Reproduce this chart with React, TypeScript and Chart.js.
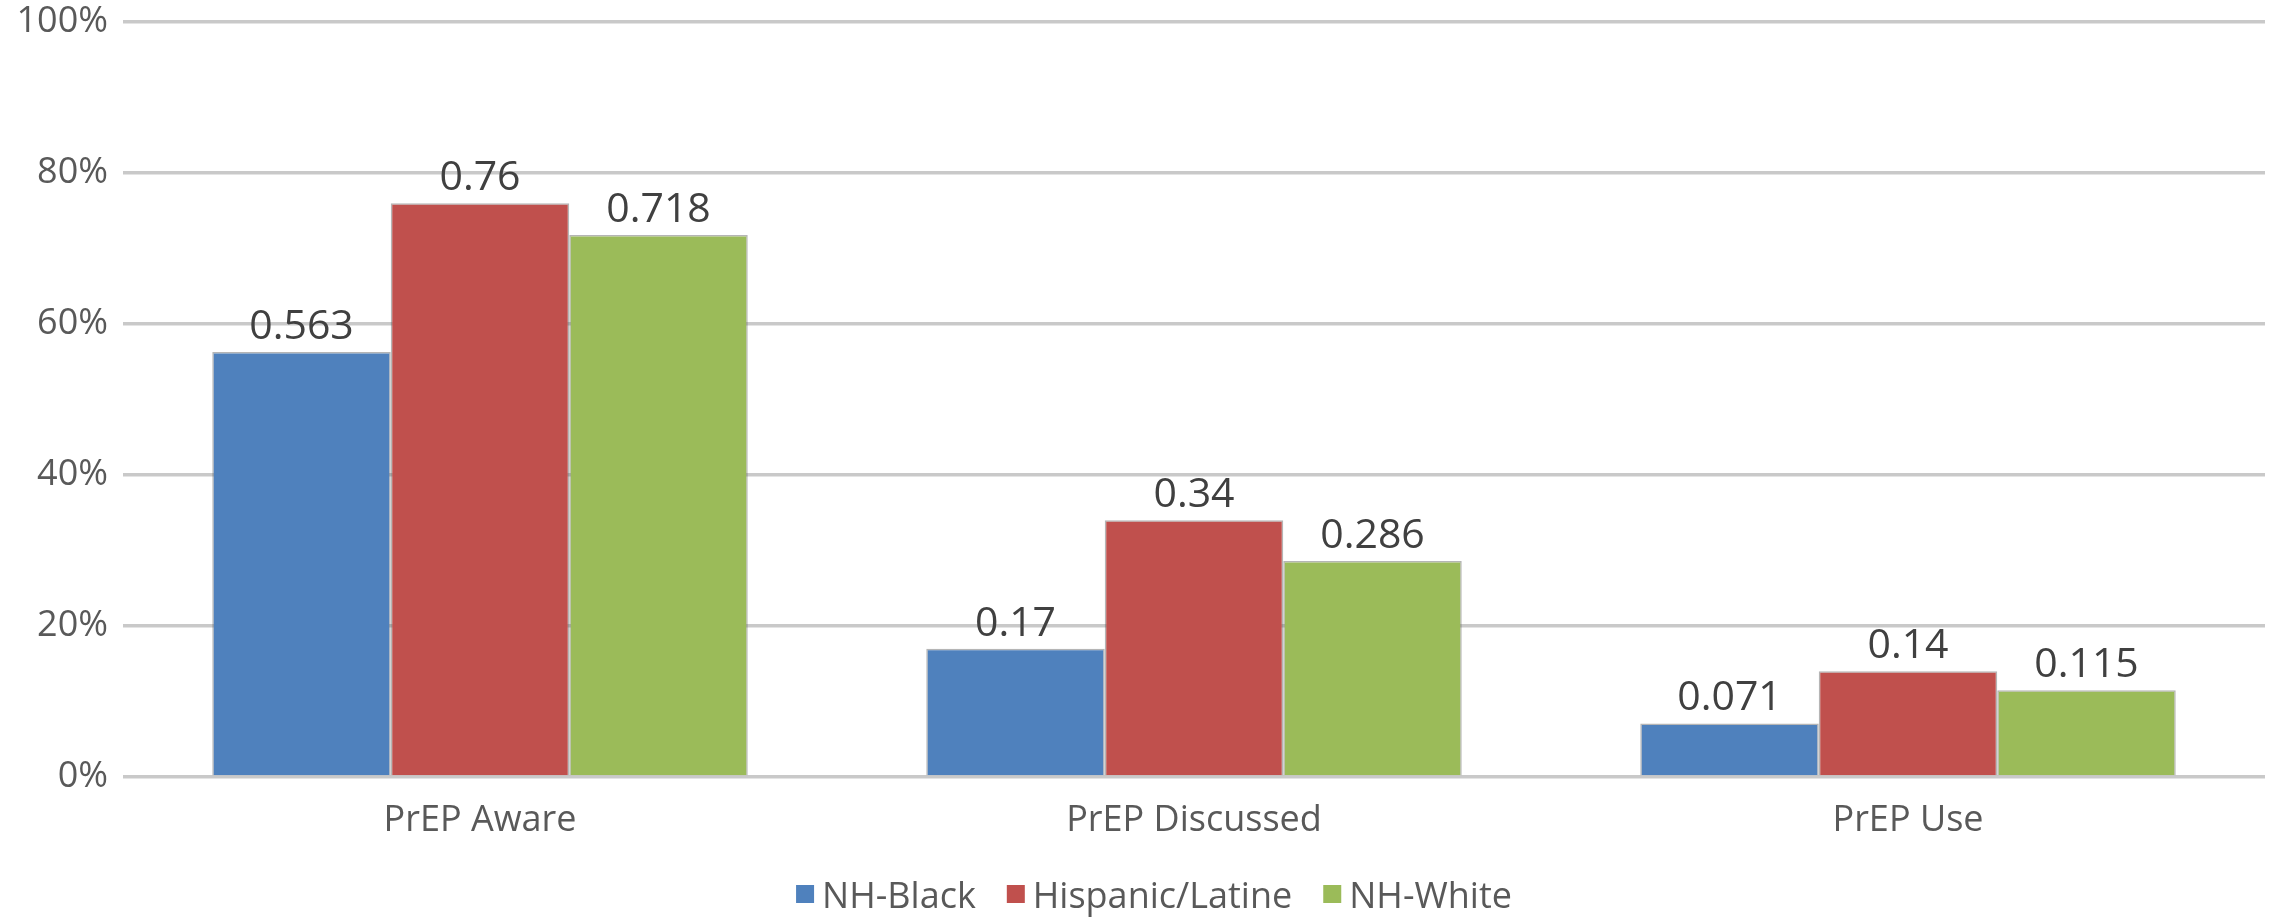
import React, { useEffect, useRef } from "react";
import { Chart, registerables } from "chart.js";

Chart.register(...registerables);

const categories = ["PrEP Aware", "PrEP Discussed", "PrEP Use"];
const seriesNames = ["NH-Black", "Hispanic/Latine", "NH-White"];
const nhBlack = [0.563, 0.17, 0.071];
const hispanicLatine = [0.76, 0.34, 0.14];
const nhWhite = [0.718, 0.286, 0.115];
const seriesColors = ["#4F81BD", "#C0504D", "#9BBB59"];
const yTickValues = [0, 0.2, 0.4, 0.6, 0.8, 1];

const FONT = '"Open Sans", "DejaVu Sans", sans-serif';

const valueLabels = {
  id: "valueLabels",
  afterDatasetsDraw(chart: any) {
    const ctx = chart.ctx;
    ctx.save();
    ctx.font = `41px ${FONT}`;
    ctx.fillStyle = "#404040";
    ctx.textAlign = "center";
    ctx.textBaseline = "alphabetic";
    chart.data.datasets.forEach((ds: any, i: number) => {
      const meta = chart.getDatasetMeta(i);
      meta.data.forEach((bar: any, j: number) => {
        ctx.fillText(String(ds.data[j]), bar.x, bar.y - 13);
      });
    });
    ctx.restore();
  },
};

const customLegend = {
  id: "customLegend",
  afterDraw(chart: any) {
    const ctx = chart.ctx;
    ctx.save();
    ctx.font = `36px ${FONT}`;
    const box = 18;
    const gap = 8;
    const itemGap = 31;
    const items = chart.data.datasets.map((ds: any) => ({
      label: ds.label,
      color: ds.backgroundColor,
      w: ctx.measureText(ds.label).width,
    }));
    const total =
      items.reduce((s: number, it: any) => s + box + gap + it.w, 0) +
      itemGap * (items.length - 1);
    let x = 1154 - total / 2;
    const yc = 898;
    ctx.textBaseline = "middle";
    ctx.textAlign = "left";
    items.forEach((it: any) => {
      ctx.fillStyle = it.color;
      ctx.fillRect(x, yc - box / 2 - 4, box, box);
      ctx.fillStyle = "#595959";
      ctx.fillText(it.label, x + box + gap, yc);
      x += box + gap + it.w + itemGap;
    });
    ctx.restore();
  },
};

export default function App() {
  const canvasRef = useRef<HTMLCanvasElement | null>(null);

  useEffect(() => {
    const canvas = canvasRef.current;
    if (!canvas) return;
    const seriesData = [nhBlack, hispanicLatine, nhWhite];
    const chart = new Chart(canvas, {
      type: "bar",
      data: {
        labels: categories,
        datasets: seriesNames.map((name, i) => ({
          label: name,
          data: seriesData[i],
          backgroundColor: seriesColors[i],
          borderColor: "rgba(90,90,90,0.45)",
          borderWidth: 1.5,
          barPercentage: 1,
          categoryPercentage: 0.75,
        })),
      },
      options: {
        responsive: false,
        animation: false,
        devicePixelRatio: 1,
        layout: { padding: { top: 22, right: 14, left: 0, bottom: 0 } },
        plugins: {
          legend: { display: false },
          tooltip: { enabled: false },
          title: { display: false },
        },
        scales: {
          x: {
            grid: { display: false, drawTicks: false },
            border: { display: false },
            ticks: {
              color: "#595959",
              font: { family: FONT, size: 36 },
              padding: 22,
              maxRotation: 0,
            },
            afterFit(scale: any) {
              scale.height = 142;
              scale.paddingLeft = 0;
              scale.paddingRight = 0;
            },
          },
          y: {
            min: 0,
            max: 1,
            grid: {
              color: "#c9c9c9",
              lineWidth: 3.5,
              drawTicks: false,
            },
            border: { display: false },
            ticks: {
              color: "#595959",
              font: { family: FONT, size: 36 },
              padding: 15,
              stepSize: 0.2,
              callback: (v: any) => Math.round(Number(v) * 100) + "%",
            },
            afterBuildTicks(scale: any) {
              scale.ticks = yTickValues.map((v) => ({ value: v }));
            },
            afterFit(scale: any) {
              scale.width = 123;
              scale.paddingTop = 0;
              scale.paddingBottom = 0;
            },
          },
        },
      },
      plugins: [valueLabels, customLegend],
    });
    return () => chart.destroy();
  }, []);

  return (
    <div
      style={{
        position: "fixed",
        left: 0,
        top: 0,
        width: 2279,
        height: 919,
        background: "#ffffff",
      }}
    >
      <canvas ref={canvasRef} width={2279} height={919} />
    </div>
  );
}
